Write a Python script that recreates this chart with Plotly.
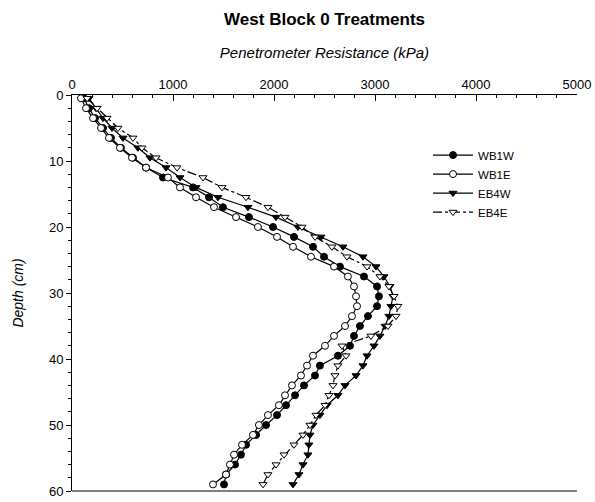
import plotly.graph_objects as go

depth = [0.5, 2, 3.5, 5, 6.5, 8, 9.5, 11, 12.5, 14, 15.5, 17, 18.5, 20, 21.5, 23, 24.5, 26, 27.5, 29,
         30.5, 32, 33.5, 35, 36.5, 38, 39.5, 41, 42.5, 44, 45.5, 47, 48.5, 50, 51.5, 53, 54.5, 56, 57.5, 59]

wb1w = [119, 168, 228, 307, 386, 485, 604, 733, 901, 1198, 1356, 1495, 1752, 1990, 2198, 2386, 2495, 2653, 2891, 3020,
        3039, 3020, 2930, 2851, 2792, 2752, 2633, 2455, 2406, 2297, 2208, 2119, 2030, 1921, 1822, 1723, 1673, 1614, 1525, 1505]
wb1e = [89, 139, 208, 287, 366, 475, 594, 733, 950, 1069, 1228, 1406, 1624, 1841, 2030, 2188, 2366, 2594, 2732, 2792,
        2812, 2822, 2772, 2703, 2594, 2505, 2386, 2327, 2267, 2178, 2109, 2049, 1940, 1851, 1792, 1683, 1604, 1564, 1525, 1396]
eb4w = [168, 238, 307, 396, 505, 653, 772, 931, 1069, 1228, 1445, 1742, 2020, 2237, 2465, 2683, 2881, 3010, 3089, 3148,
        3178, 3158, 3138, 3099, 3049, 2990, 2921, 2881, 2812, 2703, 2633, 2525, 2455, 2386, 2356, 2346, 2336, 2287, 2247, 2188]
eb4e = [149, 248, 347, 455, 604, 693, 832, 1040, 1297, 1485, 1723, 1940, 2109, 2277, 2406, 2574, 2723, 2921, 3049, 3138,
        3188, 3227, 3208, 3128, 2960, 2673, 2713, 2633, 2604, 2584, 2544, 2505, 2416, 2356, 2287, 2198, 2099, 2020, 1940, 1891]

series = [
    ("WB1W", wb1w, "circle", "black", "solid"),
    ("WB1E", wb1e, "circle", "white", "solid"),
    ("EB4W", eb4w, "triangle-down", "black", "solid"),
    ("EB4E", eb4e, "triangle-down", "white", "dashdot"),
]

FONT = "Liberation Sans, Arial, sans-serif"

fig = go.Figure()
for name, vals, sym, fill, dash in series:
    fig.add_trace(go.Scatter(
        x=vals, y=depth, name=name, mode="lines+markers",
        line=dict(color="black", width=1.2, dash=dash),
        marker=dict(symbol=sym, size=7, color=fill, line=dict(color="black", width=1)),
        cliponaxis=False,
    ))

fig.update_layout(
    width=595, height=502,
    margin=dict(l=72, r=18, t=95, b=11),
    paper_bgcolor="white", plot_bgcolor="white",
    font=dict(family=FONT, size=13, color="black"),
    title=dict(text="<b>West Block 0 Treatments</b>", x=0.5455, xanchor="center",
               y=0.962, yanchor="middle", font=dict(size=17, family=FONT),
               automargin=False),
    showlegend=True,
    legend=dict(x=0.705, y=0.885, xanchor="left", yanchor="top",
                font=dict(size=11.5, family=FONT), bgcolor="rgba(0,0,0,0)",
                tracegroupgap=0, itemwidth=40),
    xaxis=dict(
        side="top", range=[0, 5000], dtick=1000, tick0=0, automargin=False,
        showgrid=False, zeroline=False,
        showline=True, linecolor="black", linewidth=1,
        ticks="inside", ticklen=6, tickcolor="black",
        minor=dict(dtick=200, ticks="inside", ticklen=3, tickcolor="black", showgrid=False),
        title=dict(text="<i>Penetrometer Resistance (kPa)</i>", font=dict(size=15), standoff=14),
        tickfont=dict(size=13),
    ),
    yaxis=dict(
        range=[60, 0], dtick=10, tick0=0, automargin=False,
        showgrid=False, zeroline=False,
        showline=True, linecolor="black", linewidth=1,
        ticks="outside", ticklen=5, tickcolor="black",
        minor=dict(dtick=2, ticks="outside", ticklen=3, tickcolor="black", showgrid=False),
        title=dict(text="<i>Depth (cm)</i>", font=dict(size=14), standoff=22),
        tickfont=dict(size=13),
    ),
)

fig.add_shape(type="line", xref="x domain", yref="y domain", x0=0, x1=1, y0=0, y1=0,
              line=dict(color="black", width=1))

fig.write_html("out.html")
